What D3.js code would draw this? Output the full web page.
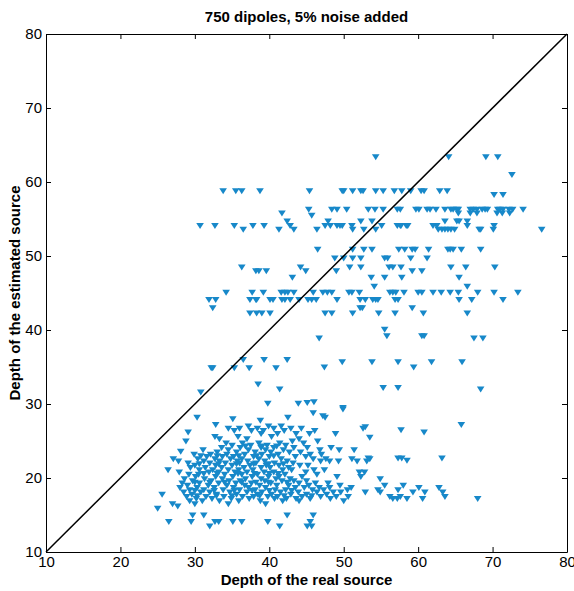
<!DOCTYPE html>
<html>
<head>
<meta charset="utf-8">
<script src="https://cdn.jsdelivr.net/npm/d3@7"></script>
<style>
  body { margin: 0; background: #fff; }
  svg { font-family: "Liberation Sans", Arial, sans-serif; }
</style>
</head>
<body>
<div class="container"></div>
<script>
// ticks and labels
const xTicks = [10, 20, 30, 40, 50, 60, 70, 80];
const yTicks = [10, 20, 30, 40, 50, 60, 70, 80];
const titleText = "750 dipoles, 5% noise added";
const xLabel = "Depth of the real source";
const yLabel = "Depth of the estimated source";

// upper cluster, read row by row: [estimated depth, [real depths...]]
const upperRows = [
    [63.4, [54.3, 64.1, 69.1, 70.7]],
    [61.0, [72.6]],
    [58.8, [33.8, 35.5, 36.3, 38.75, 45.4, 49.8, 50.0, 51.2, 52.3, 52.6, 54.3, 55.3, 56.8, 57.8, 59.0, 60.4, 60.8, 62.9, 63.9]],
    [58.3, [70.2, 71.4]],
    [56.3, [45.3, 48.4, 49.1, 50.4, 53.3, 54.2, 55.3, 57.2, 57.6, 59.7, 60.1, 61.2, 61.6, 62.4, 63.6, 64.4, 64.7, 65.2, 65.4, 67.0, 67.4, 67.9, 68.6, 69.0, 69.3, 70.7, 71.0, 71.4, 72.2, 72.7, 74.1]],
    [55.8, [41.7, 65.4, 67.0, 67.9, 70.6, 71.3, 72.3]],
    [55.5, [45.7]],
    [54.7, [42.4, 47.9, 52.3, 53.8, 63.6, 65.2, 65.5, 66.6]],
    [54.1, [30.7, 32.7, 35.3, 37.8, 39.3, 42.8, 47.5, 48.2, 49.1, 49.5, 49.8, 51.1, 55.1, 57.2, 57.6, 57.7, 58.4, 58.6, 62.0, 62.5, 66.6, 70.2]],
    [53.6, [36.5, 41.3, 43.3, 46.4, 51.2, 52.7, 54.3, 62.7, 63.2, 63.6, 64.0, 64.4, 64.9, 68.2, 68.4, 70.1, 76.6]],
    [50.9, [46.5, 51.2, 52.7, 53.8, 57.4, 58.2, 59.2, 59.6, 61.4, 64.0, 64.3, 64.7, 65.8, 68.4]],
    [49.7, [48.8, 50.0, 51.2, 52.3, 55.5, 55.9, 59.0, 61.2]],
    [48.5, [36.3, 44.2, 50.8, 52.3, 56.1, 56.6, 57.7, 64.4, 66.4, 70.3]],
    [48.0, [38.2, 38.6, 39.6, 44.9, 49.0, 59.2, 60.5]],
    [47.1, [43.1, 53.7, 55.5, 57.8, 65.5]],
    [45.9, [54.1, 66.6]],
    [45.1, [34.2, 37.7, 39.2, 41.6, 42.1, 42.5, 43.3, 45.9, 47.2, 47.8, 48.4, 50.7, 51.1, 52.1, 56.2, 56.6, 57.0, 58.1, 60.0, 60.5, 62.0, 63.1, 64.3, 65.4, 68.0, 70.2, 73.4]],
    [44.1, [31.9, 32.8, 37.4, 38.2, 38.3, 40.1, 40.5, 41.7, 42.1, 42.8, 44.0, 45.2, 45.7, 46.3, 49.1, 52.2, 52.9, 53.9, 54.3, 54.6, 56.9, 57.3, 65.5, 67.2, 71.4]],
    [43.0, [32.4, 52.2, 52.5, 59.2]],
    [42.3, [37.4, 38.3, 39.0, 40.1, 47.5, 48.4, 51.2, 54.7, 56.9, 60.7, 66.6]]
];

// scattered points between the two groups: [real, estimated]
const middlePoints = [
    [55.5, 40.1], [55.8, 39.2], [60.5, 39.2], [60.8, 39.2], [46.7, 38.9], [67.5, 38.9], [68.7, 38.9],
    [49.8, 35.7], [53.8, 35.7], [57.3, 35.7], [61.8, 35.7], [65.9, 35.7], [47.4, 35.0], [59.4, 35.0],
    [36.5, 36.0], [39.3, 36.0], [42.4, 36.0], [32.2, 34.9], [32.4, 34.9], [35.3, 34.9], [37.3, 34.9], [40.9, 34.9],
    [55.3, 32.2], [57.3, 32.2], [68.4, 32.0], [38.5, 32.7], [41.4, 32.0], [30.8, 31.6],
    [39.8, 30.1], [43.9, 30.1], [45.1, 30.2], [46.0, 30.3], [49.9, 29.5]
];

// lower cluster, row by row
const lowerRows = [
    [27.0, [37.2, 39.9, 41.6]],
    [26.7, [36.0, 38.4, 40.6, 42.9, 44.3]],
    [26.4, [35.3, 37.6, 39.2, 42.0, 46.1]],
    [26.0, [38.9, 41.1, 43.6, 45.4, 48.9]],
    [25.6, [32.7, 35.8, 40.3]],
    [25.3, [33.3, 37.0, 44.0]],
    [25.0, [28.8, 43.1, 46.5]],
    [24.7, [34.2, 36.4, 38.6, 41.4, 44.6]],
    [24.4, [35.0, 37.5, 39.7, 42.2]],
    [24.3, [36.8, 39.0, 41.0]],
    [24.1, [33.6, 36.1, 38.9, 40.6, 43.3, 45.1, 48.3]],
    [23.8, [31.1, 34.5, 37.2, 39.5, 41.9, 46.8, 49.4, 51.4]],
    [23.5, [33.0, 35.6, 38.1, 40.2, 42.7, 44.2]],
    [23.2, [29.9, 32.1, 34.3, 36.7, 39.0, 41.2, 45.5, 47.0]],
    [23.0, [30.8, 33.0, 35.9, 38.3, 40.6]],
    [22.9, [31.6, 33.7, 35.2, 37.9, 40.0, 43.5, 44.9]],
    [22.6, [27.1, 30.4, 32.7, 34.8, 36.3, 38.6, 41.6, 45.9, 47.6, 51.1, 53.5]],
    [22.3, [27.8, 31.2, 33.3, 35.7, 37.1, 39.4, 42.4, 46.9, 48.1, 49.3, 51.8, 53.1]],
    [22.0, [29.1, 32.0, 34.1, 36.0, 38.2, 40.7, 43.2]],
    [21.9, [30.6, 33.2, 35.6, 37.9, 39.9, 41.9]],
    [21.7, [30.0, 32.8, 35.0, 37.4, 39.6, 41.3, 44.1, 45.2]],
    [21.4, [29.4, 31.4, 33.6, 36.6, 38.9, 40.1, 42.6]],
    [21.1, [26.4, 30.6, 32.4, 34.5, 35.9, 37.8, 41.8, 43.0, 46.0, 47.4]],
    [20.8, [27.9, 31.9, 33.2, 35.4, 37.0, 39.3, 40.6, 44.9, 52.1, 52.8]],
    [20.6, [31.2, 33.0, 35.8, 38.0, 40.0, 41.2]],
    [20.5, [29.2, 30.5, 34.0, 36.3, 38.4, 42.1, 46.4]],
    [20.2, [30.1, 32.8, 35.1, 37.7, 39.9, 41.3, 44.4, 49.1, 52.3]],
    [19.9, [28.6, 31.3, 33.7, 36.8, 38.9, 40.9, 42.8, 54.9]],
    [19.6, [29.7, 32.2, 34.6, 36.1, 39.4, 41.7, 43.3, 45.0]],
    [19.4, [30.0, 32.0, 34.0, 36.3, 38.2, 39.9, 42.4]],
    [19.3, [28.3, 30.6, 33.2, 35.5, 37.6, 40.2, 44.0, 46.2, 47.9]],
    [19.0, [29.0, 31.8, 34.3, 36.7, 38.7, 41.0, 42.6, 45.3, 49.5, 55.5, 58.0]],
    [18.7, [28.0, 30.3, 32.6, 35.2, 37.2, 39.5, 43.5, 44.7, 46.7, 48.1, 51.0, 60.1, 62.8]],
    [18.4, [29.3, 31.2, 33.8, 36.0, 38.1, 40.8, 42.2, 45.8, 47.3, 50.5, 54.6, 57.3]],
    [18.3, [30.0, 32.6, 35.3, 37.7, 40.0, 43.0]],
    [18.1, [28.5, 30.8, 32.0, 34.7, 37.0, 39.0, 41.5, 43.9, 46.4, 48.6, 49.6, 52.9, 54.9, 59.3, 60.9, 63.3]],
    [17.8, [25.6, 29.6, 32.9, 35.6, 38.4, 40.3, 42.9, 45.0, 47.7]],
    [17.6, [30.3, 32.9, 35.0, 38.7, 42.0, 45.7]],
    [17.5, [28.9, 31.5, 33.9, 36.4, 37.9, 39.8, 41.1, 44.4, 46.9, 49.0, 50.6, 56.2, 57.6, 63.6]],
    [17.2, [30.2, 32.3, 34.9, 37.3, 40.7, 42.3, 43.6, 45.5, 48.2, 56.6, 57.2, 58.5, 60.6, 68.0]],
    [16.9, [29.3, 31.0, 33.3, 35.9, 38.8, 41.8, 44.0, 50.0]],
    [16.5, [27.0, 30.0, 34.5, 39.5]],
    [16.2, [27.7]],
    [15.9, [25.0]],
    [15.0, [29.7, 31.2, 42.4, 45.9]],
    [14.1, [26.5, 29.5, 32.7, 33.2, 35.1, 36.3, 39.8, 45.5]],
    [13.5, [32.0, 41.4, 45.1, 45.7]]
];

// loose points around the lower cluster: [real, estimated]
const lowerPoints = [
    [28.1, 23.6], [30.3, 28.2], [35.1, 28.0], [32.8, 27.2], [29.1, 26.2],
    [34.5, 26.7], [38.8, 27.8], [42.5, 28.2], [45.9, 28.8], [47.2, 28.4], [47.5, 28.2], [49.9, 29.3],
    [52.6, 26.7], [53.5, 25.5], [57.7, 26.5], [60.8, 26.2], [65.8, 27.2], [52.9, 26.9],
    [53.3, 22.7], [57.3, 22.7], [57.8, 22.7], [58.5, 22.4], [63.2, 22.7]
];

const rowsToPoints = (rows) => rows.flatMap(([yv, xs]) => xs.map((xv) => [xv, yv]));

const render = () => {
    const w = 574;
    const h = 591;
    const left = 46, right = 567, top = 34, bottom = 552;

    const points = [
        ...rowsToPoints(upperRows),
        ...middlePoints,
        ...rowsToPoints(lowerRows),
        ...lowerPoints,
    ];

    const xScale = d3.scaleLinear().domain([10, 80]).range([left, right]);
    const yScale = d3.scaleLinear().domain([10, 80]).range([bottom, top]);

    const svg = d3
        .select(".container")
        .append("svg")
        .attr("width", w)
        .attr("height", h);

    // markers
    svg.append("g")
        .selectAll("path")
        .data(points)
        .enter()
        .append("path")
        .attr("d", "M-3.8,-2.6L3.8,-2.6L0,3.4Z")
        .attr("transform", (d) => `translate(${xScale(d[0])},${yScale(d[1])})`)
        .attr("fill", "#1788c9");

    // identity line
    svg.append("line")
        .attr("x1", xScale(10))
        .attr("y1", yScale(10))
        .attr("x2", xScale(80))
        .attr("y2", yScale(80))
        .attr("stroke", "#000")
        .attr("stroke-width", 1.5);

    const styleAxis = (g) => {
        g.select(".domain").attr("stroke", "#000").attr("stroke-width", 1);
        g.selectAll(".tick line").attr("stroke", "#000");
        g.selectAll(".tick text")
            .attr("fill", "#000")
            .style("font-size", "15px")
            .style("font-family", "'Liberation Sans', Arial, sans-serif");
    };

    svg.append("g")
        .attr("transform", `translate(0,${bottom})`)
        .call(d3.axisBottom(xScale).tickValues(xTicks).tickSizeInner(-5).tickSizeOuter(0).tickPadding(4))
        .call(styleAxis);

    svg.append("g")
        .attr("transform", `translate(0,${top})`)
        .call(d3.axisTop(xScale).tickValues(xTicks).tickSizeInner(-5).tickSizeOuter(0).tickFormat(""))
        .call(styleAxis);

    svg.append("g")
        .attr("transform", `translate(${left},0)`)
        .call(d3.axisLeft(yScale).tickValues(yTicks).tickSizeInner(-5).tickSizeOuter(0).tickPadding(4))
        .call(styleAxis);

    svg.append("g")
        .attr("transform", `translate(${right},0)`)
        .call(d3.axisRight(yScale).tickValues(yTicks).tickSizeInner(-5).tickSizeOuter(0).tickFormat(""))
        .call(styleAxis);

    // title and labels
    svg.append("text")
        .attr("x", (left + right) / 2)
        .attr("y", 22)
        .attr("text-anchor", "middle")
        .style("font-size", "15px")
        .style("font-weight", "bold")
        .text(titleText);

    svg.append("text")
        .attr("x", (left + right) / 2)
        .attr("y", 585)
        .attr("text-anchor", "middle")
        .style("font-size", "15px")
        .style("font-weight", "bold")
        .text(xLabel);

    svg.append("text")
        .attr("transform", `translate(20,${(top + bottom) / 2}) rotate(-90)`)
        .attr("text-anchor", "middle")
        .style("font-size", "15px")
        .style("font-weight", "bold")
        .text(yLabel);
};

render();
</script>
</body>
</html>
